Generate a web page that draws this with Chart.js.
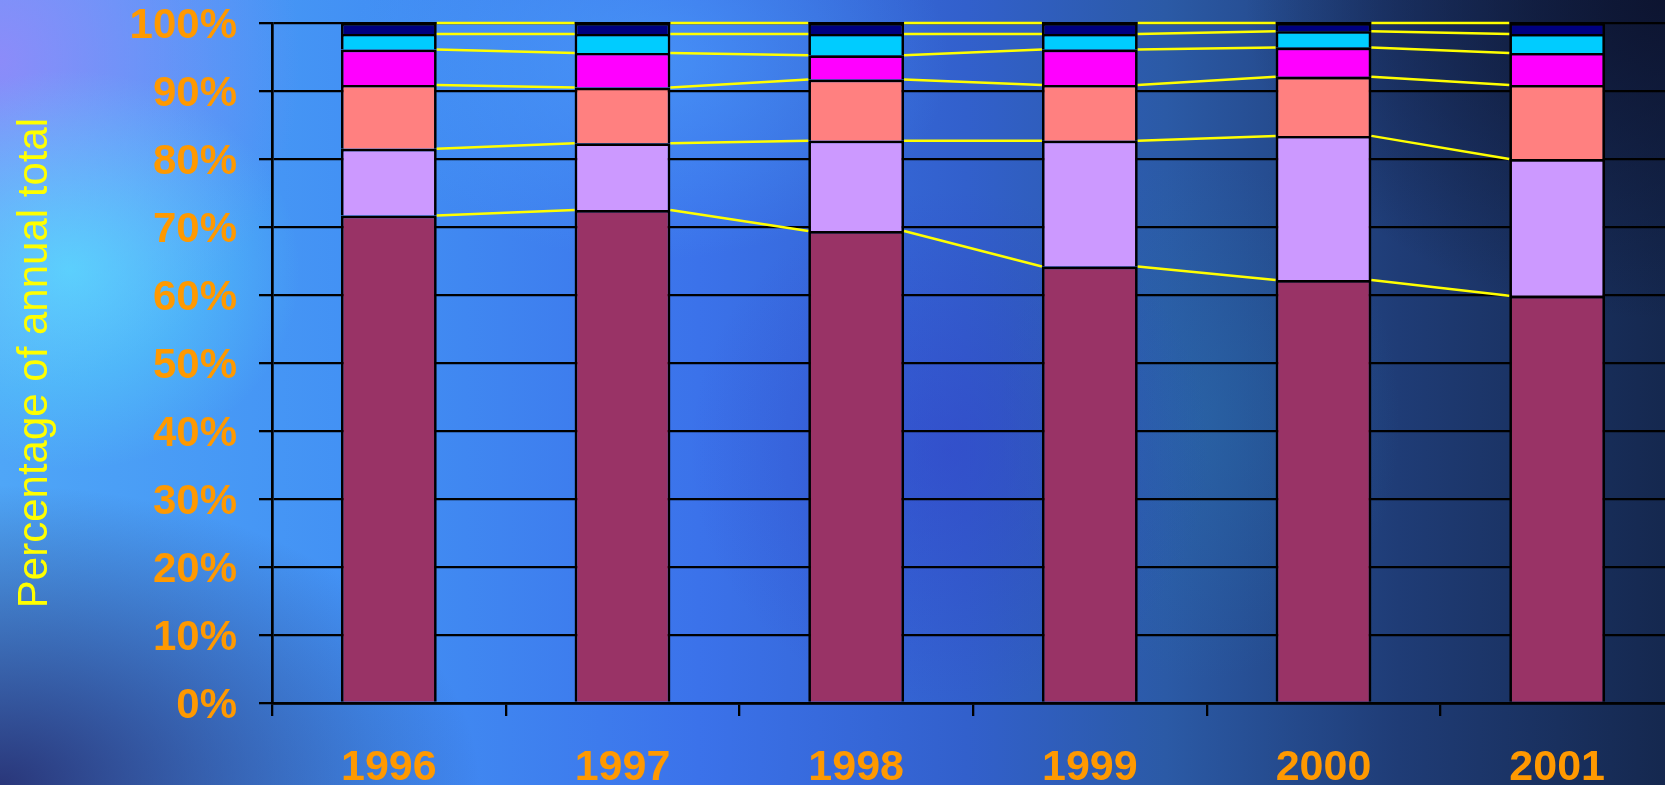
<!DOCTYPE html>
<html>
<head>
<meta charset="utf-8">
<script src="https://cdn.jsdelivr.net/npm/chart.js@4.4.1/dist/chart.umd.min.js"></script>
<style>
  html, body { margin: 0; padding: 0; }
  body {
    width: 1665px; height: 785px; overflow: hidden;
    background:
      radial-gradient(ellipse 230px 200px at 70px 270px, rgba(90,225,255,0.75), rgba(90,225,255,0) 100%),
      radial-gradient(ellipse 300px 330px at 0px 60px, rgba(150,135,250,0.85), rgba(150,135,250,0) 100%),
      radial-gradient(ellipse 480px 300px at 0px 785px, rgba(35,35,100,0.85), rgba(35,35,100,0) 100%),
      radial-gradient(ellipse 420px 320px at 1665px 0px, rgba(12,18,45,0.9), rgba(12,18,45,0) 100%),
      radial-gradient(ellipse 300px 200px at 650px 60px, rgba(80,170,255,0.5), rgba(80,170,255,0) 100%),
      radial-gradient(ellipse 260px 260px at 950px 450px, rgba(50,60,200,0.45), rgba(50,60,200,0) 100%),
      radial-gradient(ellipse 200px 260px at 1200px 420px, rgba(40,110,170,0.45), rgba(40,110,170,0) 100%),
      linear-gradient(to right, #4fa6f7 0%, #4290f4 22%, #3b72ea 42%, #3260cc 58%, #2b5aa6 70%, #1f3c76 84%, #15284f 100%);
  }
  canvas { display: block; }
</style>
</head>
<body>
<canvas id="chart" width="1700" height="785"></canvas>
<script>
// percentage of annual total, bottom segment first
const years = ['1996', '1997', '1998', '1999', '2000', '2001'];
const seriesA = [71.7, 72.5, 69.4, 64.2, 62.2, 59.9];
const seriesB = [9.8, 9.8, 13.3, 18.5, 21.2, 20.1];
const seriesC = [9.4, 8.2, 9.0, 8.2, 8.7, 10.9];
const seriesD = [5.2, 5.1, 3.55, 5.2, 4.3, 4.7];
const seriesE = [2.3, 2.8, 3.15, 2.3, 2.4, 2.8];
const seriesF = [1.6, 1.6, 1.6, 1.6, 1.2, 1.6];
const yTicks = [0, 10, 20, 30, 40, 50, 60, 70, 80, 90, 100];

const colors = ['#993366', '#CC99FF', '#FF8080', '#FF00FF', '#00CCFF', '#000080'];
const FONT = 'Arial, "Liberation Sans", sans-serif';

// excel style series lines joining the segment tops of neighbouring bars
const seriesLines = {
  id: 'seriesLines',
  afterDatasetsDraw(chart) {
    const ctx = chart.ctx;
    ctx.save();
    ctx.strokeStyle = '#FFFF00';
    ctx.lineWidth = 2.5;
    chart.data.datasets.forEach((ds, d) => {
      const bars = chart.getDatasetMeta(d).data;
      for (let i = 0; i < bars.length - 1; i++) {
        const a = bars[i], b = bars[i + 1];
        ctx.beginPath();
        ctx.moveTo(a.x + a.width / 2, a.y);
        ctx.lineTo(b.x - b.width / 2, b.y);
        ctx.stroke();
      }
    });
    ctx.restore();
  }
};

new Chart(document.getElementById('chart'), {
  type: 'bar',
  data: {
    labels: years,
    datasets: [seriesA, seriesB, seriesC, seriesD, seriesE, seriesF].map((vals, i) => ({
      label: 'Series ' + (i + 1),
      data: vals,
      backgroundColor: colors[i],
      borderColor: '#000000',
      borderWidth: 2.7,
      barPercentage: 0.41,
      categoryPercentage: 1
    }))
  },
  options: {
    responsive: false,
    animation: false,
    layout: { padding: { top: 23, right: 26, left: 0, bottom: 0 } },
    plugins: { legend: { display: false }, tooltip: { enabled: false } },
    scales: {
      x: {
        stacked: true,
        grid: { drawOnChartArea: false, color: '#000000', lineWidth: 2.3, tickLength: 13 },
        border: { color: '#000000', width: 2.7 },
        ticks: { color: '#FF9900', font: { family: FONT, size: 43, weight: 'bold' }, padding: 26 },
        afterFit(scale) { scale.height = 82; }
      },
      y: {
        stacked: true,
        min: 0, max: 100,
        afterBuildTicks(scale) { scale.ticks = yTicks.map(v => ({ value: v })); },
        grid: { color: '#000000', lineWidth: 2.3, tickLength: 13 },
        border: { color: '#000000', width: 2.7 },
        ticks: {
          color: '#FF9900',
          padding: 22,
          labelOffset: 3,
          font: { family: FONT, size: 42, weight: 'bold', lineHeight: 1 },
          callback: v => v + '%'
        },
        title: {
          display: true,
          text: 'Percentage of annual total',
          color: '#FFFF00',
          font: { family: FONT, size: 42 },
          padding: { top: 10, bottom: 0 }
        },
        afterFit(scale) {
          scale.width = 272;
          scale.paddingTop = 0;
          scale.paddingBottom = 0;
        }
      }
    }
  },
  plugins: [seriesLines]
});
</script>
</body>
</html>
